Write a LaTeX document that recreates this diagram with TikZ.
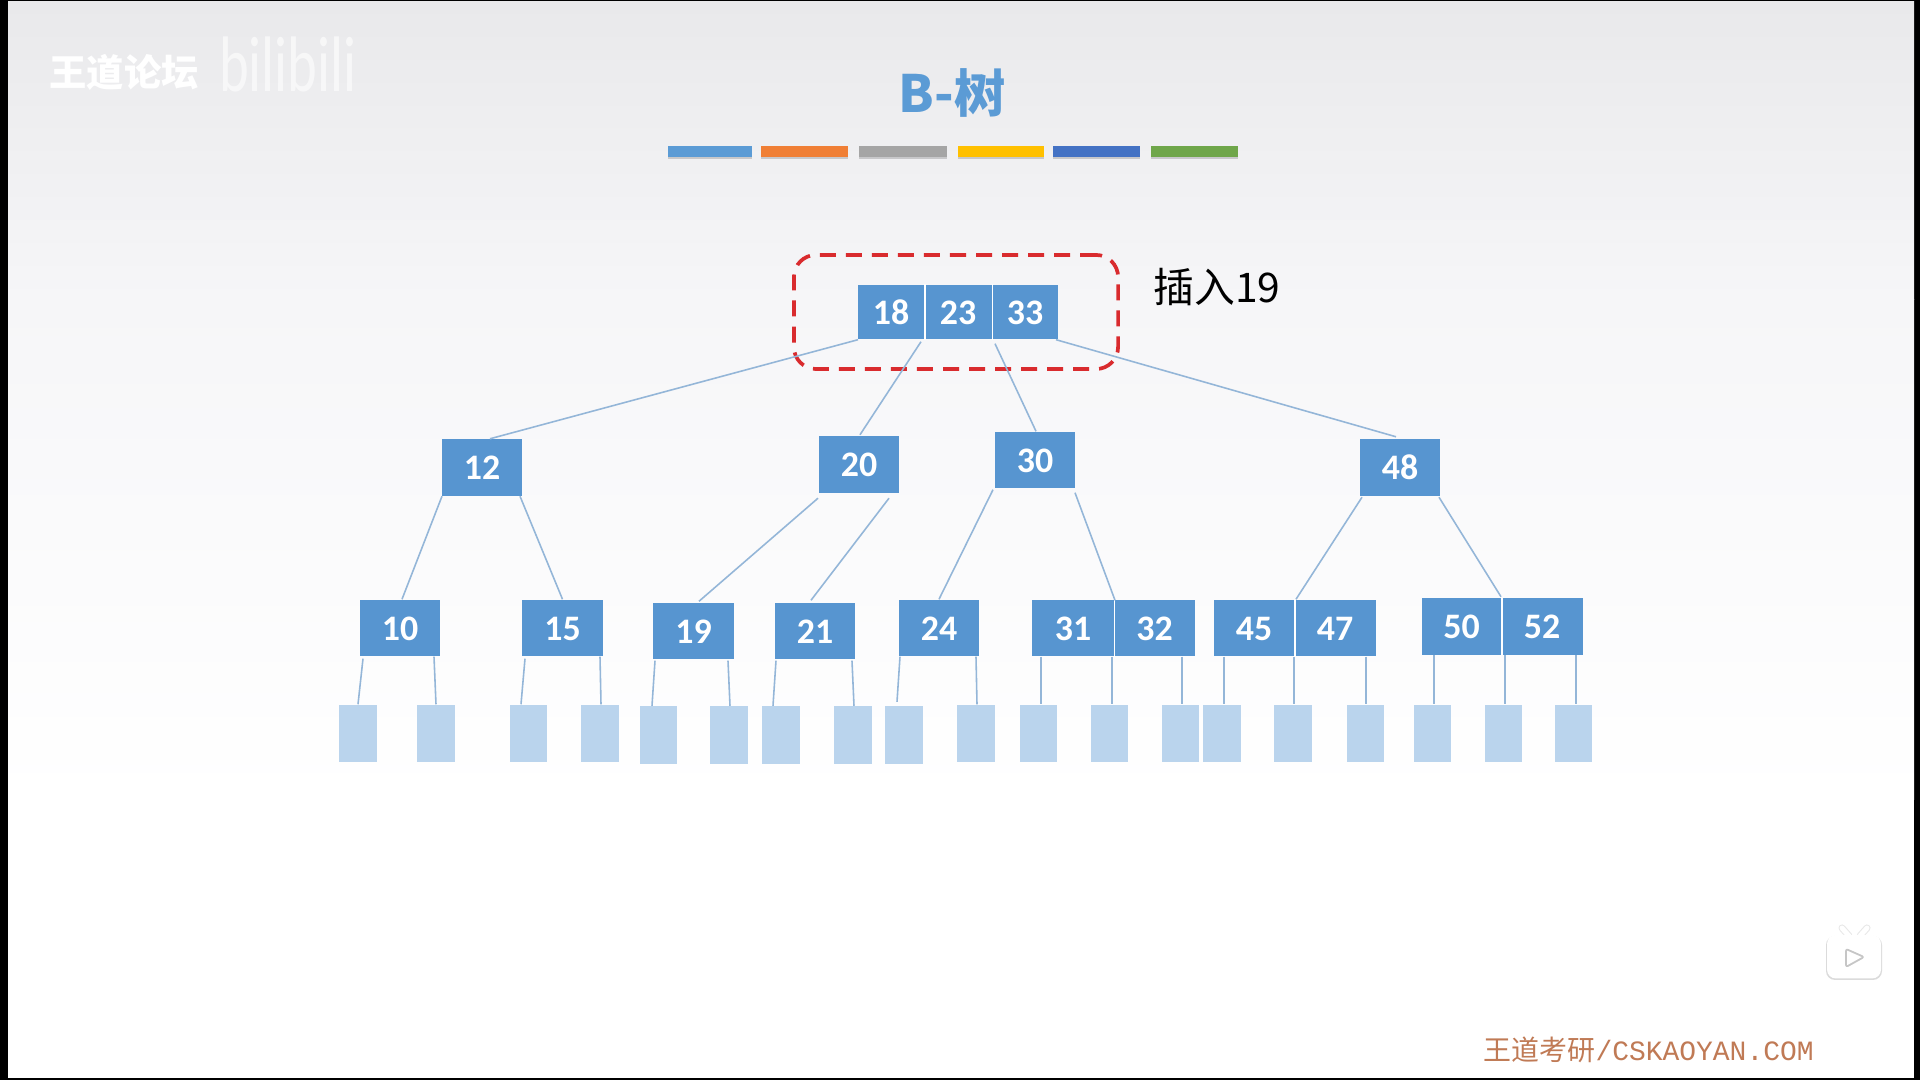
\documentclass[tikz,border=0pt]{standalone}
\usepackage{fontspec}
\usepackage{graphicx}
\setmainfont{Carlito}
\newfontfamily\cjkr{Noto Sans CJK SC}
\newfontfamily\wmono{Liberation Mono}
\usetikzlibrary{calc}
\definecolor{cellblue}{HTML}{5795D0}
\definecolor{leafblue}{HTML}{BAD4ED}
\definecolor{linkblue}{HTML}{94B6D8}
\definecolor{titleblue}{HTML}{5B9BD5}
\definecolor{dashred}{HTML}{D92B2E}
\definecolor{wmbrown}{HTML}{C07A55}
\definecolor{bgtop}{HTML}{E9E9EB}
\definecolor{bgmid}{HTML}{F6F6F8}
\tikzset{
  x=0.01cm,y=-0.01cm,
  cell/.style={fill=cellblue,draw=none,inner sep=0pt,text=white,text height=7pt,text depth=0pt,
    minimum width=0.8cm,minimum height=0.56cm,font=\fontsize{10.2}{12}\selectfont\bfseries},
  leaf/.style={fill=leafblue,draw=none,inner sep=0pt,minimum width=0.37cm,minimum height=0.57cm},
  link/.style={draw=linkblue,line width=0.45pt},
  divider/.style={draw=white,line width=0.3pt},
}
% parent anchor, dx, dy, child anchor, dx, dy (in reference pixels)
\newcommand{\linkto}[6]{\draw[link] ([shift={(#2,#3)}]#1) -- ([shift={(#5,#6)}]#4);}
\begin{document}
\begin{tikzpicture}
\useasboundingbox (0,0) rectangle (1920,1080);
\fill[black] (0,0) rectangle (1920,1080);
\shade[top color=bgtop,bottom color=bgmid] (8,2) rectangle (1914,300);
\shade[top color=bgmid,bottom color=white] (8,300) rectangle (1914,800);
\fill[white] (8,800) rectangle (1914,1078);

% watermarks
\node[inner sep=0pt,text=white] (wmforum) at (124,72) {\fontsize{10.6}{12}\cjkr\bfseries 王道论坛};
\node[inner sep=0pt,text=white,opacity=.6] (wmbili) at (288,64) {\scalebox{1.15}[1.6]{\fontsize{14}{14}\selectfont bilibili}};
\node[inner sep=0pt,text=wmbrown,anchor=west] (wmsite) at (1483,1050) {\fontsize{7.95}{9}\cjkr 王道考研\wmono /CSKAOYAN.COM};

% title
\node[inner sep=0pt,text=titleblue] (title) at (952,93) {\fontsize{14.6}{16}\cjkr\bfseries B-树};
\foreach \a/\b/\c in {668/752/5B9BD5,761/848/F07F35,859/946.5/A5A5A5,957.5/1044/FFC000,1052.6/1139.6/4472C4,1150.6/1238/6FA64A}{
  \definecolor{barcol}{HTML}{\c}
  \fill[gray,opacity=.35] (\a,157) rectangle (\b,159);
  \fill[barcol] (\a,146) rectangle (\b,157);
}

% root
\node[cell,minimum width=0.665cm,minimum height=0.54cm] (r18) at (891,312) {18};
\node[cell,minimum width=0.675cm,minimum height=0.54cm] (r23) at (958,312) {23};
\node[cell,minimum width=0.66cm,minimum height=0.54cm] (r33) at (1025,312) {33};
\draw[divider] (r18.north east) -- (r18.south east);
\draw[divider] (r23.north east) -- (r23.south east);
\node[draw=dashred,dash pattern=on 0.16cm off 0.1cm,line width=1.05pt,rounded corners=0.22cm,
  minimum width=3.24cm,minimum height=1.14cm,inner sep=0pt] (frame) at (956,312) {};
\node[inner sep=0pt,anchor=west] (ins) at (1153,287) {\fontsize{11.6}{13}\cjkr 插入19};

% level 2
\node[cell] (n12) at (482,467.5) {12};
\node[cell] (n20) at (859,464.5) {20};
\node[cell] (n30) at (1035,460) {30};
\node[cell] (n48) at (1400,467.5) {48};

% level 3
\node[cell] (n10) at (400,628) {10};
\node[cell] (n15) at (562.5,628) {15};
\node[cell] (n19) at (693.5,631) {19};
\node[cell] (n21) at (815,631) {21};
\node[cell] (n24) at (939,628) {24};
\node[cell,minimum width=0.82cm] (n31) at (1073,628) {31};
\node[cell,minimum width=0.81cm] (n32) at (1154.5,628) {32};
\node[cell,minimum width=0.805cm] (n45) at (1254,628) {45};
\node[cell,minimum width=0.82cm] (n47) at (1335,628) {47};
\node[cell,minimum width=0.795cm] (n50) at (1461.5,626.5) {50};
\node[cell,minimum width=0.82cm] (n52) at (1542,626.5) {52};
\draw[divider] (n31.north east) -- (n31.south east);
\draw[divider] (n45.north east) -- (n45.south east);
\draw[divider] (n50.north east) -- (n50.south east);

% leaves
\foreach \n/\x/\y in {1/358/733.5,2/436/733.5,3/528.5/733.5,4/600/733.5,5/658.5/735,6/729/735,7/781/735,8/853/735,9/904/735,
  10/976/733.5,11/1038.5/733.5,12/1109.5/733.5,13/1180.5/733.5,14/1222/733.5,15/1293/733.5,16/1365.5/733.5,17/1432.5/733.5,18/1503.5/733.5,19/1573.5/733.5}{
  \node[leaf] (l\n) at (\x,\y) {};
}

% links root to level 2
\linkto{r18.south}{-33}{0}{n12.north}{8}{0}
\linkto{r18.south}{30}{2}{n20.north}{1}{-1}
\linkto{r33.south}{-30}{4}{n30.north}{1}{0}
\linkto{r33.south}{31}{0}{n48.north}{-4}{-2}
% level 2 to level 3
\linkto{n12.south}{-40}{0}{n10.north}{2}{0}
\linkto{n12.south}{38}{0}{n15.north}{0}{0}
\linkto{n20.south}{-41}{5}{n19.north}{5.5}{-1}
\linkto{n20.south}{30}{5}{n21.north}{-4}{-2}
\linkto{n30.south}{-42}{1}{n24.north}{0}{0}
\linkto{n30.south}{40}{4}{n31.north}{42}{1}
\linkto{n48.south}{-38}{1}{n45.north}{42}{0}
\linkto{n48.south}{39}{1}{n52.north}{-41}{-1}
% level 3 to leaves
\linkto{n10.south}{-37}{2}{l1.north}{0}{0}
\linkto{n10.south}{34}{0}{l2.north}{0}{0}
\linkto{n15.south}{-37.5}{2}{l3.north}{-7.5}{0}
\linkto{n15.south}{37.5}{0}{l4.north}{1}{0}
\linkto{n19.south}{-38.5}{1}{l5.north}{-6.5}{0}
\linkto{n19.south}{34.5}{1}{l6.north}{1}{0}
\linkto{n21.south}{-39}{1}{l7.north}{-8}{0}
\linkto{n21.south}{37}{1}{l8.north}{1}{0}
\linkto{n24.south}{-39}{0}{l9.north}{-7}{-4}
\linkto{n24.south}{37}{0}{l10.north}{1}{0}
\linkto{n31.south}{-32}{0}{l11.north}{2.5}{0}
\linkto{n31.south}{39}{0}{l12.north}{2.5}{0}
\linkto{n32.south}{27.5}{0}{l13.north}{1.5}{0}
\linkto{n45.south}{-30}{0}{l14.north}{2}{0}
\linkto{n45.south}{40}{0}{l15.north}{1}{0}
\linkto{n47.south}{31}{0}{l16.north}{0.5}{0}
\linkto{n50.south}{-27.5}{0}{l17.north}{1.5}{0}
\linkto{n52.south}{-37}{0}{l18.north}{1.5}{0}
\linkto{n52.south}{34}{0}{l19.north}{2.5}{0}

% player icon
\draw[line width=2pt,line cap=round,gray!18] (1842,928) -- (1849,936) (1867,928) -- (1860,936);
\draw[line width=1.4pt,line cap=round,white] (1842,928) -- (1849,936) (1867,928) -- (1860,936);
\fill[gray,opacity=.28,rounded corners=0.09cm] (1826,936) rectangle (1882,980);
\fill[white,rounded corners=0.09cm] (1827,935) rectangle (1881,978.5);
\draw[gray!45,line width=0.5pt,line join=round,rounded corners=0.02cm] (1846,949) -- (1864,957) -- (1846,967) -- cycle;
\end{tikzpicture}
\end{document}
